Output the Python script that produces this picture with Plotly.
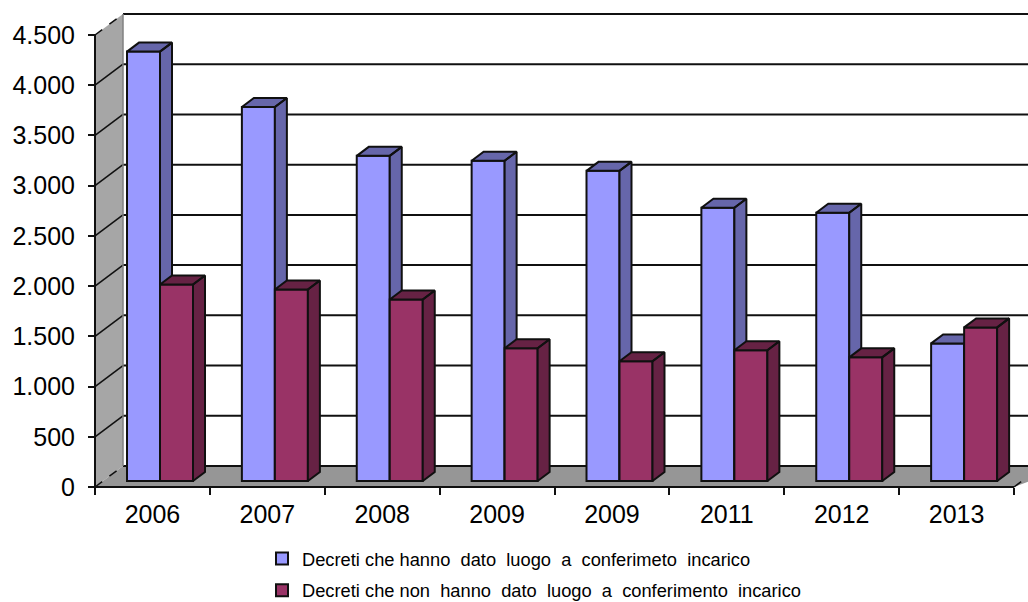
import plotly.graph_objects as go

years = ["2006", "2007", "2008", "2009", "2009", "2011", "2012", "2013"]
conferito = [4275, 3724, 3237, 3188, 3088, 2721, 2671, 1370]
non_conferito = [1956, 1907, 1807, 1321, 1192, 1301, 1231, 1529]
y_ticks = [0, 500, 1000, 1500, 2000, 2500, 3000, 3500, 4000, 4500]
y_labels = ["0", "500", "1.000", "1.500", "2.000", "2.500", "3.000", "3.500", "4.000", "4.500"]
name_a = "Decreti che hanno  dato  luogo  a  conferimeto  incarico"
name_b = "Decreti che non  hanno  dato  luogo  a  conferimento  incarico"

W, H = 1028, 602
X0, X_END = 95, 1014      # pixel extent of the front x axis
Y0, Y_TOP = 487, 35       # pixel extent of the front y axis
PPX = (X_END - X0) / len(years)
PPY = (Y0 - Y_TOP) / 4500
L, R, T, B = 85, 1028, 12, 497   # plot box in pixels
xrange_ = [(L - X0) / PPX, (R - X0) / PPX]
yrange_ = [(Y0 - B) / PPY, (Y0 - T) / PPY]
WALL_X, WALL_Y = 28 / PPX, 21 / PPY
BAR_X, BAR_Y = 12 / PPX, 9 / PPY
BASE = 6 / PPY
BAR_W = 33 / PPX
OFF_A = (127 - X0) / PPX - 0.5
OFF_B = (160 - X0) / PPX - 0.5
positions = [i + 0.5 for i in range(len(years))]
BLACK = "#101010"
LW = 2


def faces(values, offset):
    fx, fy = [], []
    for p, v in zip(positions, values):
        a = p + offset
        b = a + BAR_W
        top = v + BASE
        fx += [b, b + BAR_X, b + BAR_X, b, b, None, a, a + BAR_X, b + BAR_X, b, a, None]
        fy += [BASE, BASE + BAR_Y, top + BAR_Y, top, BASE, None, top, top + BAR_Y, top + BAR_Y, top, top, None]
    return fx, fy


fig = go.Figure()
fx, fy = faces(conferito, OFF_A)
fig.add_trace(go.Bar(x=positions, y=conferito, base=BASE, width=BAR_W, offset=OFF_A, name=name_a,
                     legendgroup="a", marker=dict(color="#9999FF", line=dict(color=BLACK, width=LW))))
fig.add_trace(go.Scatter(x=fx, y=fy, mode="lines", fill="toself", fillcolor="#6666AA", showlegend=False,
                         line=dict(color=BLACK, width=LW), hoverinfo="skip"))
fx, fy = faces(non_conferito, OFF_B)
fig.add_trace(go.Bar(x=positions, y=non_conferito, base=BASE, width=BAR_W, offset=OFF_B, name=name_b,
                     legendgroup="b", xaxis="x2", yaxis="y2",
                     marker=dict(color="#993366", line=dict(color=BLACK, width=LW))))
fig.add_trace(go.Scatter(x=fx, y=fy, mode="lines", fill="toself", fillcolor="#662244", showlegend=False,
                         xaxis="x2", yaxis="y2", line=dict(color=BLACK, width=LW), hoverinfo="skip"))

n = len(years)
shapes = [
    dict(type="path", layer="below", line=dict(width=0), fillcolor="#A6A6A6",
         path=f"M0,0 L{WALL_X},{WALL_Y} L{WALL_X},{4500 + WALL_Y} L0,4500 Z"),
    dict(type="path", layer="below", line=dict(width=0), fillcolor="#969696",
         path=f"M0,0 L{WALL_X},{WALL_Y} L{n + 2 * WALL_X},{WALL_Y} L{n},0 Z"),
]
for t in y_ticks:
    shapes.append(dict(type="line", layer="below", x0=WALL_X, x1=n + 2 * WALL_X, y0=t + WALL_Y, y1=t + WALL_Y,
                       line=dict(color=BLACK, width=2)))
    shapes.append(dict(type="line", layer="below", x0=0, x1=WALL_X, y0=t, y1=t + WALL_Y,
                       line=dict(color=BLACK, width=1.5, dash="dash" if t in (0, 4500) else "solid")))
shapes.append(dict(type="line", layer="below", x0=WALL_X, x1=WALL_X, y0=WALL_Y, y1=4500 + WALL_Y,
                   line=dict(color="#808080", width=1.5)))
shapes.append(dict(type="line", layer="below", x0=0, x1=n, y0=0, y1=0, line=dict(color=BLACK, width=2)))
shapes.append(dict(type="line", layer="below", x0=0, x1=0, y0=0, y1=4500, line=dict(color=BLACK, width=2)))
shapes.append(dict(type="line", layer="below", x0=n, x1=n + WALL_X, y0=0, y1=WALL_Y,
                   line=dict(color=BLACK, width=1.5, dash="dash")))

fig.update_layout(
    width=W, height=H, barmode="overlay", paper_bgcolor="white", plot_bgcolor="white",
    margin=dict(l=L, r=W - R, t=T, b=H - B, pad=0, autoexpand=False),
    font=dict(family="Liberation Sans, Arial, sans-serif", color="black"),
    shapes=shapes,
    showlegend=True,
    legend=dict(x=(262 - L) / (R - L), xanchor="left", y=-(540 - B) / (B - T), yanchor="top",
                font=dict(size=18.3), tracegroupgap=5, bgcolor="rgba(0,0,0,0)", itemclick=False),
    xaxis=dict(range=xrange_, tickmode="array", tickvals=list(range(n + 1)), ticktext=[""] * (n + 1),
               anchor="free", position=(B - Y0) / (B - T),
               ticks="outside", ticklen=7, tickwidth=1.5, tickcolor=BLACK, showgrid=False, zeroline=False,
               showline=False),
    yaxis=dict(range=yrange_, tickmode="array", tickvals=y_ticks, ticktext=y_labels, anchor="free",
               position=(X0 - L) / (R - L), ticks="outside", ticklen=7, tickwidth=1.5, tickcolor=BLACK,
               ticklabelstandoff=8, tickfont=dict(size=25), showgrid=False, zeroline=False, showline=False),
    xaxis2=dict(range=xrange_, overlaying="x", tickmode="array", tickvals=positions, ticktext=years,
                anchor="free", position=(B - Y0) / (B - T), ticks="", side="bottom", ticklabelstandoff=10,
                tickfont=dict(size=25), showgrid=False, zeroline=False, showline=False),
    yaxis2=dict(range=yrange_, overlaying="y", visible=False),
)
fig.write_html("out.html", config=dict(displayModeBar=False),
               post_script="document.body.style.margin='0';document.body.style.overflow='hidden';")
